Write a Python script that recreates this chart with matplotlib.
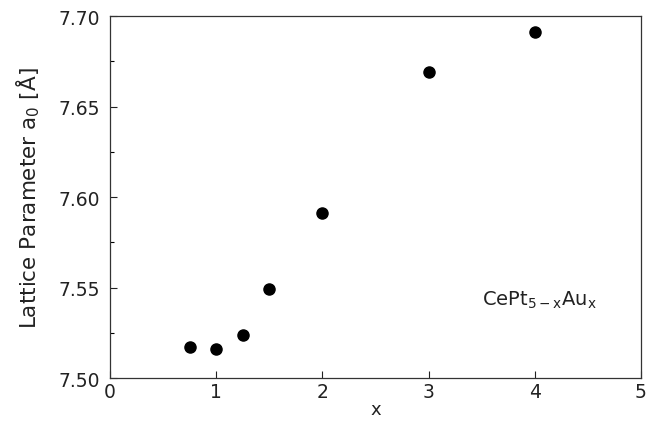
import matplotlib
matplotlib.use("Agg")
import matplotlib.pyplot as plt
from matplotlib.ticker import MultipleLocator

# CePt(5-x)Au(x) lattice parameter vs gold content
x = [0.75, 1.0, 1.25, 1.5, 2.0, 3.0, 4.0]
a0 = [7.517, 7.516, 7.524, 7.549, 7.591, 7.669, 7.691]

plt.rcParams['font.family'] = ['DejaVu Sans']
plt.rcParams['mathtext.fontset'] = 'dejavusans'

fig = plt.figure(figsize=(6.48, 4.27), dpi=100)
ax = fig.add_axes([0.170, 0.112, 0.819, 0.848])

ax.plot(x, a0, 'o', color='black', markersize=8)

ax.set_xlim(0, 5)
ax.set_ylim(7.50, 7.70)
ax.xaxis.set_major_locator(MultipleLocator(1))
ax.yaxis.set_major_locator(MultipleLocator(0.05))
ax.yaxis.set_minor_locator(MultipleLocator(0.025))
ax.yaxis.set_major_formatter(plt.FormatStrFormatter('%.2f'))
ax.tick_params(direction='in', length=5, width=0.8, labelsize=13.5, colors='#222222')
ax.tick_params(axis='y', pad=7)
ax.tick_params(axis='x', pad=3)
ax.tick_params(which='minor', direction='in', length=3, width=0.8)
for s in ax.spines.values():
    s.set_linewidth(0.9)
    s.set_color('#333333')

ax.set_xlabel('x', fontsize=13, color='#222222', labelpad=-1)
ax.set_ylabel('Lattice Parameter a$_0$ [Å]', fontsize=15.5, color='#222222', labelpad=12)

ax.text(3.5, 7.5436, r'CePt$_{\mathrm{5-x}}$Au$_{\mathrm{x}}$', fontsize=14,
        ha='left', va='center', color='#222222')

fig.savefig('out.png', dpi=100)
